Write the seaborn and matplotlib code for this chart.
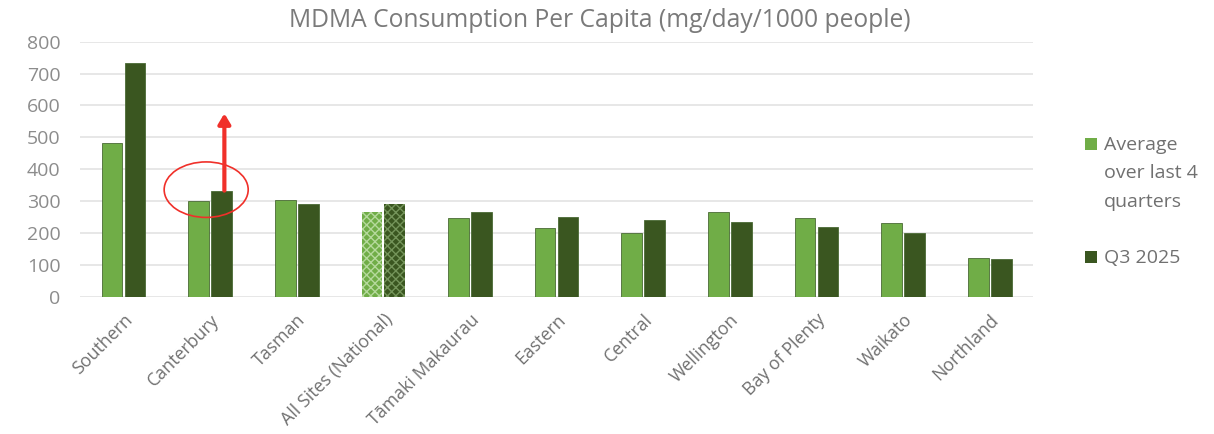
import matplotlib
matplotlib.use("Agg")
import matplotlib.pyplot as plt
from matplotlib.patches import Ellipse, Rectangle
import pandas as pd
import seaborn as sns

# values
REGIONS = ['Southern', 'Canterbury', 'Tasman', 'All Sites (National)',
           'Tāmaki Makaurau', 'Eastern', 'Central', 'Wellington',
           'Bay of Plenty', 'Waikato', 'Northland']
AVG_4Q  = [481, 301, 305, 267, 248, 216, 199, 266, 248, 230, 122]
Q3_2025 = [732, 333, 291, 291, 267, 249, 242, 236, 220, 199, 118]
SERIES  = ['Average over last 4 quarters', 'Q3 2025']
LEGEND_LABELS = ['Average\nover last 4\nquarters', 'Q3 2025']
Y_TICKS = [0, 100, 200, 300, 400, 500, 600, 700, 800]

LIGHT = '#70AD47'
DARK  = '#3A5620'
GREY  = '#8C8C8C'
RED   = '#F0302A'

df = pd.DataFrame({
    'region': REGIONS * 2,
    'series': [SERIES[0]] * len(REGIONS) + [SERIES[1]] * len(REGIONS),
    'value':  AVG_4Q + Q3_2025,
})

sns.set_theme(style='white')
plt.rcParams['font.family'] = ['Open Sans', 'DejaVu Sans']

fig = plt.figure(figsize=(12.14, 4.34), dpi=100)
ax = fig.add_axes([0.066, 0.316, 0.785, 0.588])

sns.barplot(data=df, x='region', y='value', hue='series',
            palette=[LIGHT, DARK], saturation=1, width=0.53, gap=0.1,
            order=REGIONS, hue_order=SERIES, ax=ax, legend=False,
            linewidth=0.6, edgecolor='#4a6a35', errorbar=None)

# national bars are patterned in the original
nat = REGIONS.index('All Sites (National)')
for i, bar in enumerate(ax.patches):
    if i % len(REGIONS) == nat:
        light = i < len(REGIONS)
        bar.set_hatch('xxxx')
        bar.set_edgecolor('#b5d99c' if light else '#74945a')
        bar.set_linewidth(0.0)

ax.set_ylim(0, 800)
ax.set_xlim(-0.5, len(REGIONS) - 0.5)
ax.set_yticks(Y_TICKS)
ax.set_yticklabels([str(t) for t in Y_TICKS], fontsize=14, color=GREY)
ax.yaxis.grid(True, color='#e3e3e3', linewidth=1.2)
ax.set_axisbelow(True)
ax.set_xlabel('')
ax.set_ylabel('')
for s in ax.spines.values():
    s.set_visible(False)
ax.tick_params(axis='both', length=0)
ax.tick_params(axis='y', pad=14)
ax.tick_params(axis='x', pad=10)
for lab in ax.get_xticklabels():
    lab.set_rotation(45)
    lab.set_ha('right')
    lab.set_rotation_mode('anchor')
    lab.set_fontsize(12.8)
    lab.set_color('#707070')

fig.suptitle('MDMA Consumption Per Capita (mg/day/1000 people)',
             x=600 / 1214, y=1 - 8 / 434, va='top', fontsize=17.7,
             color='#7a7a7a')

# highlight on Canterbury
cant = REGIONS.index('Canterbury')
ax.add_patch(Ellipse((cant - 0.045, 336), width=0.97, height=174,
                     fill=False, edgecolor=RED, linewidth=1.2))
ax.annotate('', xy=(cant + 0.165, 575), xytext=(cant + 0.165, Q3_2025[cant]),
            arrowprops=dict(arrowstyle='-|>,head_width=0.3,head_length=0.5',
                            color=RED, linewidth=3, shrinkA=0, shrinkB=0))

# legend drawn by hand: squares sit on the first text line
for j, (lab, col) in enumerate(zip(LEGEND_LABELS, [LIGHT, DARK])):
    y_mid = [144, 257][j]
    fig.patches.append(Rectangle((1085 / 1214, 1 - (y_mid + 6) / 434),
                                 12 / 1214, 12 / 434,
                                 transform=fig.transFigure, facecolor=col,
                                 edgecolor='none'))
    fig.text(1104 / 1214, 1 - (y_mid - 8) / 434, lab, fontsize=14,
             color='#707070', va='top', ha='left', linespacing=1.75)

fig.savefig('out.png', dpi=100)
